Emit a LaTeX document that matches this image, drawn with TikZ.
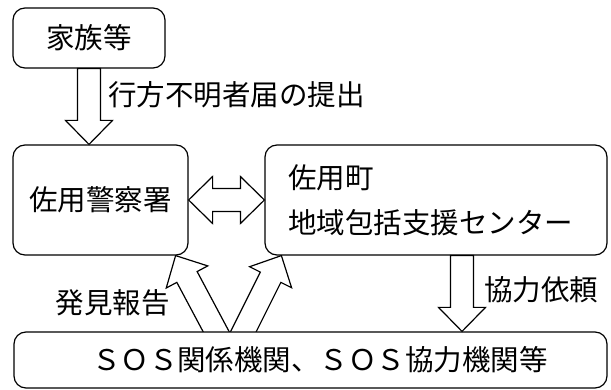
\documentclass[tikz,border=0pt]{standalone}
\usepackage{fontspec}
\setmainfont{Noto Sans CJK JP}
\usepackage{tikz}
\usetikzlibrary{calc,backgrounds}
\newcommand{\shaftw}{11.5pt}
\newcommand{\headw}{23.5pt}
\newcommand{\headl}{24pt}
% hollow block arrow, tail #1, tip #2
\newcommand{\hollowarrow}[2]{%
\draw[hollow] let \p1=($(#2)-(#1)$), \n1={atan2(\y1,\x1)}, \n2={veclen(\x1,\y1)} in
  ($(#1)+(\n1+90:\shaftw)$) -- ($(#1)+(\n1:{\n2-\headl})+(\n1+90:\shaftw)$)
  -- ($(#1)+(\n1:{\n2-\headl})+(\n1+90:\headw)$) -- (#2)
  -- ($(#1)+(\n1:{\n2-\headl})+(\n1-90:\headw)$) -- ($(#1)+(\n1:{\n2-\headl})+(\n1-90:\shaftw)$)
  -- ($(#1)+(\n1-90:\shaftw)$) -- cycle;}
% hollow block arrow with a tip at both ends
\newcommand{\hollowdouble}[2]{%
\draw[hollow] let \p1=($(#2)-(#1)$), \n1={atan2(\y1,\x1)}, \n2={veclen(\x1,\y1)} in
  (#1) -- ($(#1)+(\n1:\headl)+(\n1+90:\headw)$) -- ($(#1)+(\n1:\headl)+(\n1+90:\shaftw)$)
  -- ($(#1)+(\n1:{\n2-\headl})+(\n1+90:\shaftw)$) -- ($(#1)+(\n1:{\n2-\headl})+(\n1+90:\headw)$)
  -- (#2)
  -- ($(#1)+(\n1:{\n2-\headl})+(\n1-90:\headw)$) -- ($(#1)+(\n1:{\n2-\headl})+(\n1-90:\shaftw)$)
  -- ($(#1)+(\n1:\headl)+(\n1-90:\shaftw)$) -- ($(#1)+(\n1:\headl)+(\n1-90:\headw)$) -- cycle;}
\begin{document}
\begin{tikzpicture}[x=1pt,y=-1pt,
  font=\fontsize{28.5}{34}\selectfont,
  box/.style={draw,line width=1.2pt,rounded corners=12pt,inner sep=0pt,fill=white},
  hollow/.style={draw,line width=1.2pt,fill=white,line join=miter},
  lbl/.style={inner sep=0pt}]
\useasboundingbox (0,0) rectangle (611,390);
\node[box,minimum width=152pt,minimum height=60pt] (family) at (89,38) {家族等};
\node[box,minimum width=175pt,minimum height=110pt] (police) at (100.5,200) {佐用警察署};
\node[box,minimum width=342pt,minimum height=110pt,text width=296pt,inner xsep=23pt,
  align=left,font=\fontsize{28.5}{45}\selectfont] (town) at (436,200) {佐用町\\地域包括支援センター};
\node[box,minimum width=593pt,minimum height=56pt] (sos) at (310.5,360)
  {\hspace*{19pt}ＳＯＳ関係機関、ＳＯＳ協力機関等};

\node[lbl,anchor=west] (report) at (108,95) {行方不明者届の提出};
\node[lbl,anchor=west] (request) at (484,290) {協力依頼};
\node[lbl] (found) at (113,303) {発見報告};

\hollowarrow{family.south}{family.south |- police.north}
\hollowdouble{police.east}{town.west}
\coordinate (reqtop) at ($(town.south)+(26,0)$);
\hollowarrow{reqtop}{reqtop |- sos.north}

\coordinate (tipL) at ($(police.south east)+(-13,0)$);
\coordinate (tipR) at ($(town.south west)+(17,0)$);
\coordinate (baseL) at ($(sos.north)+(-94.5,0)$);
\coordinate (baseR) at ($(sos.north)+(-67,0)$);
\coordinate (startL) at ($(tipL)!1.2!(baseL)$);
\coordinate (startR) at ($(tipR)!1.2!(baseR)$);
\begin{scope}[on background layer]
\hollowarrow{startL}{tipL}
\hollowarrow{startR}{tipR}
\end{scope}
\end{tikzpicture}
\end{document}
